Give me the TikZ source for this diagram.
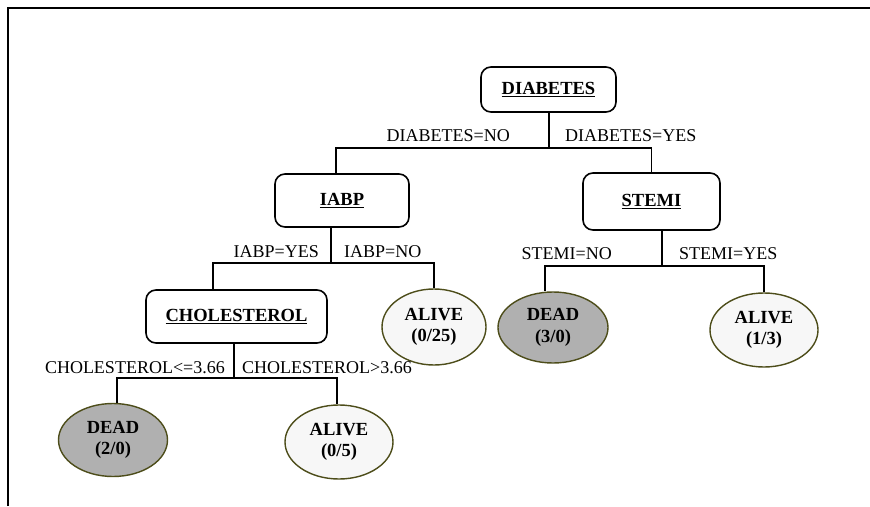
\documentclass[tikz,border=0pt]{standalone}
\usepackage{fontspec}
\setmainfont{Liberation Serif}
\usetikzlibrary{shapes.geometric}
\definecolor{deadgray}{HTML}{B0B0B0}
\definecolor{alivefill}{HTML}{F7F7F7}
\definecolor{olive}{HTML}{4D4D1A}
\begin{document}
\begin{tikzpicture}[x=1pt,y=-1pt,
  every node/.style={font=\fontsize{18}{20}\selectfont},
  testbox/.style={draw=black,line width=1.6pt,rounded corners=10pt,inner sep=0pt,font=\fontsize{18.5}{20}\selectfont\bfseries},
  leaf/.style={ellipse,draw=olive,line width=1.4pt,inner sep=0pt,align=center,font=\fontsize{18.5}{21.5}\selectfont\bfseries},
  deadleaf/.style={leaf,fill=deadgray},
  aliveleaf/.style={leaf,fill=alivefill},
  conn/.style={line width=1.6pt},
  lbl/.style={inner sep=0pt}]
\useasboundingbox (0,0) rectangle (870,506);
\draw[line width=1.6pt] (8,506) -- (8,8) -- (870,8);
% decision nodes
\node[testbox,minimum width=135pt,minimum height=45pt] (diab) at (548.5,89.5) {\underline{DIABETES}};
\node[testbox,minimum width=134pt,minimum height=53pt] (iabp) at (342,200.5) {\underline{IABP}};
\node[testbox,minimum width=137pt,minimum height=57pt] (stemi) at (651.5,201.5) {\underline{STEMI}};
\node[testbox,minimum width=181pt,minimum height=53pt] (chol) at (236.5,316.5) {\underline{CHOLESTEROL}};
% leaves
\node[aliveleaf,minimum width=104pt,minimum height=76pt] (a25) at (434,327) {ALIVE\\(0/25)};
\node[deadleaf,minimum width=110pt,minimum height=71pt] (d30) at (553,327.5) {DEAD\\(3/0)};
\node[aliveleaf,minimum width=108pt,minimum height=74pt] (a13) at (764,330) {ALIVE\\(1/3)};
\node[deadleaf,minimum width=109pt,minimum height=73pt] (d20) at (113,440) {DEAD\\(2/0)};
\node[aliveleaf,minimum width=108pt,minimum height=74pt] (a05) at (339,442) {ALIVE\\(0/5)};
% junction coordinates
\coordinate (j1) at (549,148);
\coordinate (j2) at (331,263);
\coordinate (j3) at (662,266);
\coordinate (j4) at (234,378);
% connectors
\draw[conn] (diab.south -| j1) -- (j1);
\draw[conn] ([xshift=-6pt]iabp.north) |- (j1) -| (stemi.north);
\draw[conn] (iabp.south -| j2) -- (j2);
\draw[conn] ([xshift=-23.5pt]chol.north) |- (j2) -| (a25.north);
\draw[conn] (stemi.south -| j3) -- (j3);
\draw[conn] (d30.north -| 545,0) |- (j3) -| (a13.north);
\draw[conn] (chol.south -| j4) -- (j4);
\draw[conn] (d20.north -| 117,0) |- (j4) -| (a05.north -| 337,0);
% labels
\node[lbl,anchor=base east] (l1) at (510,141) {DIABETES=NO};
\node[lbl,anchor=base west] (l2) at (565,141) {DIABETES=YES};
\node[lbl,anchor=base east] (l3) at (319,257) {IABP=YES};
\node[lbl,anchor=base west] (l4) at (344,257) {IABP=NO};
\node[lbl,anchor=base east] (l5) at (612,259) {STEMI=NO};
\node[lbl,anchor=base west] (l6) at (679,259) {STEMI=YES};
\node[lbl,anchor=base east] (l7) at (225,373) {CHOLESTEROL<=3.66};
\node[lbl,anchor=base west] (l8) at (242,373) {CHOLESTEROL>3.66};
\end{tikzpicture}
\end{document}
